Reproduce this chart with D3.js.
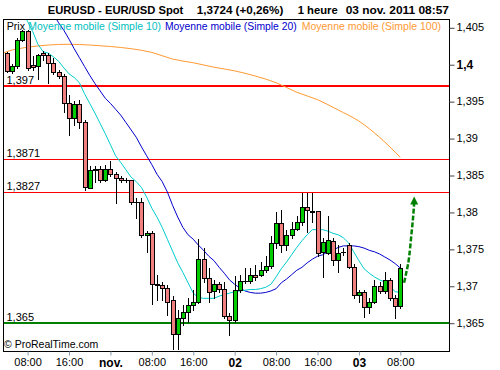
<!DOCTYPE html>
<html><head><meta charset="utf-8">
<script src="https://cdn.jsdelivr.net/npm/d3@7"></script>
<style>
body{margin:0;background:#fff}
svg{display:block}
text{font-family:"Liberation Sans",Arial,sans-serif}
</style>
</head><body>
<svg id="chart" width="500" height="370"></svg>
<script>
// ---------- DATA ----------
const firstCandleHour = 4; // hours after 31 Oct 2011 00:00
const opens = [1.4015,1.3991,1.3997,1.4033,1.4045,1.3999,1.3997,1.4015,1.4012,1.4001,
1.3990,1.3984,1.3947,1.3927,1.3946,1.3922,1.3833,1.3858,1.3858,1.3843,
1.3858,1.3851,1.3846,1.3843,1.3843,1.3813,1.3813,1.3769,1.3772,1.3702,
1.3701,1.3697,1.3681,1.3635,1.3657,1.3664,1.3674,1.3678,1.3736,1.3710,
1.3693,1.3702,1.3695,1.3659,1.3654,1.3694,1.3706,1.3706,1.3715,1.3715,
1.3721,1.3727,1.3758,1.3785,1.3755,1.3769,1.3777,1.3786,1.3806,1.3801,
1.3801,1.3746,1.3745,1.3761,1.3735,1.3746,1.3755,1.3726,1.3688,1.3691,
1.3671,1.3678,1.3700,1.3693,1.3708,1.3684,1.3672];
const highs = [1.4017,1.4000,1.4036,1.4046,1.4046,1.4011,1.4014,1.4018,1.4015,1.4008,
1.3992,1.3987,1.3958,1.3950,1.3952,1.3925,1.3862,1.3862,1.3862,1.3864,
1.3869,1.3854,1.3849,1.3846,1.3843,1.3819,1.3819,1.3774,1.3774,1.3715,
1.3705,1.3701,1.3686,1.3667,1.3674,1.3683,1.3694,1.3763,1.3751,1.3724,
1.3708,1.3705,1.3705,1.3663,1.3713,1.3715,1.3724,1.3724,1.3728,1.3732,
1.3740,1.3767,1.3800,1.3802,1.3776,1.3786,1.3795,1.3825,1.3826,1.3826,
1.3801,1.3765,1.3794,1.3765,1.3755,1.3751,1.3758,1.3730,1.3694,1.3694,
1.3683,1.3708,1.3705,1.3719,1.3711,1.3688,1.3730];
const lows = [1.3990,1.3988,1.3995,1.4031,1.3992,1.3992,1.3980,1.4006,1.3975,1.3987,
1.3981,1.3935,1.3904,1.3918,1.3914,1.3830,1.3832,1.3841,1.3841,1.3842,
1.3849,1.3812,1.3841,1.3841,1.3811,1.3792,1.3766,1.3746,1.3675,1.3681,
1.3681,1.3660,1.3614,1.3614,1.3647,1.3651,1.3667,1.3677,1.3705,1.3678,
1.3683,1.3692,1.3656,1.3634,1.3651,1.3692,1.3704,1.3704,1.3708,1.3713,
1.3719,1.3724,1.3751,1.3746,1.3748,1.3765,1.3776,1.3782,1.3773,1.3786,
1.3740,1.3712,1.3743,1.3728,1.3719,1.3742,1.3724,1.3683,1.3678,1.3658,
1.3663,1.3677,1.3690,1.3690,1.3681,1.3656,1.3670];
const closes = [1.3991,1.3997,1.4033,1.4045,1.3995,1.3996,1.4012,1.4012,1.4002,1.3990,
1.3984,1.3947,1.3927,1.3946,1.3922,1.3834,1.3857,1.3857,1.3843,1.3858,
1.3851,1.3846,1.3843,1.3843,1.3813,1.3813,1.3769,1.3772,1.3702,1.3701,
1.3697,1.3678,1.3635,1.3657,1.3665,1.3674,1.3678,1.3736,1.3710,1.3692,
1.3702,1.3695,1.3659,1.3654,1.3694,1.3706,1.3707,1.3715,1.3712,1.3721,
1.3727,1.3758,1.3785,1.3755,1.3769,1.3777,1.3786,1.3806,1.3803,1.3800,
1.3745,1.3759,1.3762,1.3735,1.3745,1.3746,1.3726,1.3688,1.3691,1.3671,
1.3678,1.3700,1.3693,1.3708,1.3684,1.3672,1.3724];

const sma10Start = 7;
const sma10 = [1.4073,
1.4058,1.4044,1.4027,1.4017,1.4015,1.4010,1.4004,1.3995,1.3987,1.3982,
1.3975,1.3960,1.3947,1.3934,1.3920,1.3906,1.3891,1.3876,1.3867,1.3857,
1.3847,1.3841,1.3833,1.3820,1.3805,1.3793,1.3779,1.3763,1.3747,1.3731,
1.3718,1.3704,1.3690,1.3684,1.3683,1.3683,1.3683,1.3686,1.3688,1.3690,
1.3692,1.3693,1.3694,1.3695,1.3695,1.3696,1.3698,1.3702,1.3712,1.3723,
1.3732,1.3742,1.3752,1.3761,1.3769,1.3776,1.3776,1.3776,1.3774,1.3771,
1.3769,1.3765,1.3758,1.3746,1.3734,1.3723,1.3717,1.3712,1.3708,1.3705,
1.3699,1.3692,1.3691];

const sma20Start = 13;
const sma20 = [1.4068,
1.4056,1.4046,1.4034,1.4021,1.4009,1.3997,1.3985,1.3974,1.3964,1.3954,
1.3947,1.3939,1.3931,1.3921,1.3911,1.3901,1.3888,1.3876,1.3864,1.3851,
1.3841,1.3827,1.3809,1.3793,1.3779,1.3769,1.3763,1.3755,1.3748,1.3740,
1.3734,1.3725,1.3717,1.3708,1.3702,1.3697,1.3693,1.3691,1.3690,1.3690,
1.3691,1.3693,1.3696,1.3704,1.3709,1.3715,1.3721,1.3725,1.3731,1.3736,
1.3740,1.3742,1.3746,1.3748,1.3752,1.3754,1.3754,1.3754,1.3753,1.3751,
1.3748,1.3746,1.3743,1.3739,1.3735,1.3730,1.3724];

const sma100Hours = [3,4,8,12,16,20,24,28,32,36,40,44,48,52,56,60,64,68,72,76,80];
const sma100 = [1.4014,1.4017,1.4023,1.4026,1.4027,1.4026,1.4024,1.4021,1.4016,1.4007,
1.4002,1.3996,1.3991,1.3984,1.3975,1.3962,1.3952,1.3938,1.3923,1.3901,1.3874];

const levels = [1.397, 1.3871, 1.3827, 1.365];
const levelLabels = ["1,397", "1,3871", "1,3827", "1,365"];

const yTicks = [1.365, 1.37, 1.375, 1.38, 1.385, 1.39, 1.395, 1.4, 1.405];
const xTickHours = [8, 16, 24, 32, 40, 48, 56, 64, 72, 80];
const xTickLabels = ["08:00", "16:00", "nov.", "08:00", "16:00", "02", "08:00", "16:00", "03", "08:00"];
const dayLabels = ["nov.", "02", "03"];

const arrowHours = [80.73, 81.25, 81.7, 82.09, 82.42, 82.67];
const arrowPrices = [1.3704, 1.3721, 1.3739, 1.3766, 1.3789, 1.3812];
const arrowTip = [82.67, 1.3821];

const titleParts = ["EURUSD - EUR/USD Spot", "1,3724 (+0,26%)", "1 heure", "03 nov. 2011 08:57"];
const legendItems = ["Prix", "Moyenne mobile (Simple 10)", "Moyenne mobile (Simple 20)", "Moyenne mobile (Simple 100)"];

// ---------- CHART ----------
const svg = d3.select("#chart");
const W = 500, H = 370;
const plot = {left: 3.5, top: 19.5, right: 449.5, bottom: 351.5};
const base = Date.UTC(2011, 9, 31);
const hour = h => new Date(base + h * 3600e3);

const x = d3.scaleUtc().domain([hour(3.25), hour(89.4)]).range([3, 449]);
const y = d3.scaleLinear().domain([1.365, 1.405]).range([322.7, 27.3]);

svg.append("rect").attr("width", W).attr("height", H).attr("fill", "#fff");

svg.append("clipPath").attr("id", "clip").append("rect")
  .attr("x", plot.left).attr("y", plot.top)
  .attr("width", plot.right - plot.left).attr("height", plot.bottom - plot.top);

const g = svg.append("g").attr("clip-path", "url(#clip)");

// horizontal levels
const levelColors = ["#ff0000", "#ff0000", "#ff0000", "#008000"];
const levelWidths = [2, 1, 1, 2];
levels.forEach((lv, i) => {
  const yy = levelWidths[i] === 1 ? Math.round(y(lv)) + 0.5 : Math.round(y(lv));
  g.append("line").attr("x1", plot.left).attr("x2", plot.right)
    .attr("y1", yy).attr("y2", yy)
    .attr("stroke", levelColors[i]).attr("stroke-width", levelWidths[i]);
  svg.append("text").attr("x", 6.5).attr("y", Math.round(y(lv)) - 2.5)
    .attr("font-size", 11).attr("fill", "#000").text(levelLabels[i]);
});

// moving averages
const lineGen = d3.line().x(d => x(hour(d[0]))).y(d => y(d[1]));
const s100 = sma100Hours.map((h, i) => [h, sma100[i]]);
g.append("path").attr("d", lineGen.curve(d3.curveMonotoneX)(s100))
  .attr("fill", "none").attr("stroke", "#ff9933").attr("stroke-width", 1);
const s20 = sma20.map((v, i) => [sma20Start + i, v]);
g.append("path").attr("d", lineGen.curve(d3.curveLinear)(s20))
  .attr("fill", "none").attr("stroke", "#0000cc").attr("stroke-width", 1);
const s10 = sma10.map((v, i) => [sma10Start + i, v]);
g.append("path").attr("d", lineGen.curve(d3.curveLinear)(s10))
  .attr("fill", "none").attr("stroke", "#00cccc").attr("stroke-width", 1);

// candles
const candles = opens.map((o, i) => ({h: firstCandleHour + i, o, hi: highs[i], lo: lows[i], c: closes[i]}));
const cg = g.append("g");
candles.forEach(d => {
  const cx = Math.round(x(hour(d.h)));
  cg.append("line").attr("x1", cx + 0.5).attr("x2", cx + 0.5)
    .attr("y1", Math.round(y(d.hi))).attr("y2", Math.round(y(d.lo)) + 1)
    .attr("stroke", "#000").attr("stroke-width", 1);
  const yt = Math.round(y(Math.max(d.o, d.c)));
  const yb = Math.round(y(Math.min(d.o, d.c)));
  if (yb - yt < 1) {
    cg.append("line").attr("x1", cx - 2).attr("x2", cx + 3)
      .attr("y1", yt + 0.5).attr("y2", yt + 0.5).attr("stroke", "#000");
  } else {
    cg.append("rect").attr("x", cx - 1.5).attr("y", yt + 0.5)
      .attr("width", 4).attr("height", yb - yt)
      .attr("fill", d.c > d.o ? "#00cc00" : "#f08080")
      .attr("stroke", "#000").attr("stroke-width", 1);
  }
});

// arrow annotation
const arrowPts = arrowHours.map((h, i) => [h, arrowPrices[i]]);
g.append("path").attr("d", lineGen.curve(d3.curveNatural)(arrowPts))
  .attr("fill", "none").attr("stroke", "#008000").attr("stroke-width", 2.5)
  .attr("stroke-dasharray", "5,2");
const tx = x(hour(arrowTip[0])), ty = y(arrowTip[1]);
g.append("path").attr("d", `M${tx},${ty}L${tx - 4},${ty + 8}L${tx + 4},${ty + 8}Z`)
  .attr("fill", "#008000");

// frame
svg.append("rect").attr("x", plot.left).attr("y", plot.top)
  .attr("width", plot.right - plot.left).attr("height", plot.bottom - plot.top)
  .attr("fill", "none").attr("stroke", "#000").attr("stroke-width", 1);

// y axis
const fmt = d => d3.format(".3~f")(d).replace(".", ",");
const ya = svg.append("g").attr("transform", `translate(${plot.right},0)`)
  .call(d3.axisRight(y).tickValues(yTicks).tickSize(5).tickPadding(2).tickFormat(fmt));
ya.select(".domain").remove();
ya.selectAll(".tick line").attr("stroke", "#444").attr("transform", "translate(0,0.5)");
ya.selectAll(".tick text").attr("font-family", "Liberation Sans, Arial, sans-serif")
  .attr("fill", "#000")
  .attr("font-weight", d => d === 1.4 ? "bold" : "normal")
  .attr("font-size", d => d === 1.4 ? 12 : 11);

// x axis
const xa = svg.append("g").attr("transform", `translate(0,${plot.bottom})`)
  .call(d3.axisBottom(x).tickValues(xTickHours.map(hour)).tickSize(4).tickPadding(3)
    .tickFormat((d, i) => xTickLabels[i]));
xa.select(".domain").remove();
xa.selectAll(".tick line").attr("stroke", "#8899aa");
xa.selectAll(".tick text").attr("font-family", "Liberation Sans, Arial, sans-serif")
  .attr("fill", "#000")
  .attr("font-size", (d, i) => dayLabels.includes(xTickLabels[i]) ? 12 : 11)
  .attr("font-weight", (d, i) => dayLabels.includes(xTickLabels[i]) ? "bold" : "normal");

// legend (positions and widths matched to the reference)
const legColors = ["#000", "#00c0c0", "#0000cc", "#ff9933"];
const legX = [6.7, 28.3, 165, 301.7];
const legW = [18.3, 132.7, 131.7, 139.3];
legendItems.forEach((t, i) => {
  svg.append("text").attr("x", legX[i]).attr("y", 29.5).attr("font-size", 11)
    .attr("fill", legColors[i])
    .attr("textLength", legW[i]).attr("lengthAdjust", "spacingAndGlyphs")
    .text(t);
});

// title
const titleX = [47.7, 196.7, 297.7, 345.7];
const titleW = [135.6, 86.6, 40, 103.3];
titleParts.forEach((t, i) => {
  svg.append("text").attr("x", titleX[i]).attr("y", 13.5)
    .attr("font-size", 11.5).attr("font-weight", "bold").attr("fill", "#000")
    .attr("textLength", titleW[i]).attr("lengthAdjust", "spacingAndGlyphs")
    .text(t);
});

// copyright
svg.append("text").attr("x", 4).attr("y", 348).attr("font-size", 10.5).attr("fill", "#000")
  .text("© ProRealTime.com");
</script>
</body></html>
